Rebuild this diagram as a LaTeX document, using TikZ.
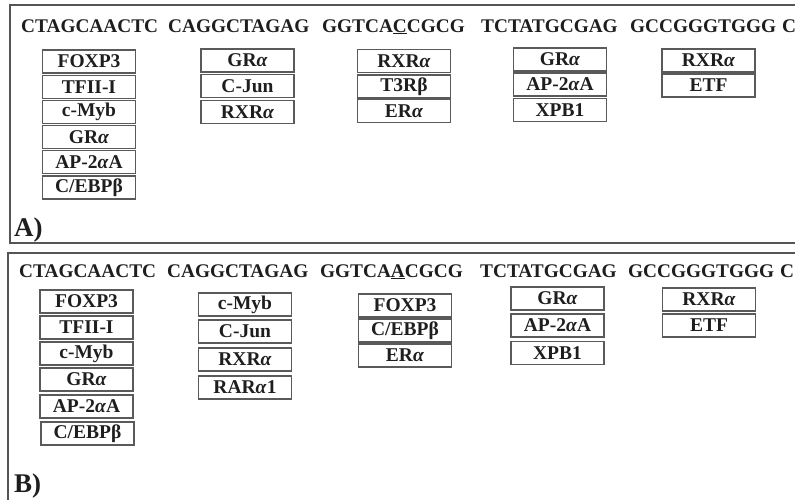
\documentclass[tikz,border=0pt]{standalone}
\usepackage{fontspec}
\setmainfont{Liberation Serif}
\definecolor{framecol}{HTML}{555555}
\definecolor{boxcol}{HTML}{5A5A5A}
\definecolor{inkcol}{HTML}{1E1E1E}
\newcommand{\al}{\textit{α}}
\tikzset{
  tfbox/.style={draw=boxcol, line width=1.3pt, minimum width=93pt, minimum height=23pt,
    inner sep=0pt, text=inkcol, font=\fontsize{19.5}{19.5}\selectfont\bfseries},
  seqword/.style={anchor=base west, inner sep=0pt, text=inkcol,
    font=\fontsize{19.3}{19.3}\selectfont\bfseries},
  paneltag/.style={anchor=base west, inner sep=0pt, text=inkcol,
    font=\fontsize{27}{27}\selectfont\bfseries},
  panelframe/.style={draw=framecol, line width=1.5pt}
}
\begin{document}
\begin{tikzpicture}[x=1pt,y=-1pt]
\useasboundingbox (0,0) rectangle (795,499);
\begin{scope}
\clip (0,0) rectangle (795,499);
% frames
\draw[panelframe] (810,5) -- (10,5) -- (10,243) -- (810,243);
\draw[panelframe] (810,253) -- (8,253) -- (8,510);
\end{scope}

% ---------- Panel A ----------
\node[seqword] (sa1) at (21,32) {CTAGCAACTC};
\node[seqword] (sa2) at (168,32) {CAGGCTAGAG};
\node[seqword] (sa3) at (322,32) {GGTCA\underline{C}CGCG};
\node[seqword] (sa4) at (481,32) {TCTATGCGAG};
\node[seqword] (sa5) at (630,32) {GCCGGGTGGG};
\node[seqword] (sa6) at (782,32) {C};

\node[tfbox] (a11) at (89,61.5) {FOXP3};
\node[tfbox] (a12) at (89,87) {TFII-I};
\node[tfbox] (a13) at (89,112) {c-Myb};
\node[tfbox] (a14) at (89,137) {GR\al};
\node[tfbox] (a15) at (89,162) {AP-2\al A};
\node[tfbox] (a16) at (89,187.5) {C/EBPβ};

\node[tfbox] (a21) at (247.5,60.5) {GR\al};
\node[tfbox] (a22) at (247.5,86) {C-Jun};
\node[tfbox] (a23) at (247.5,112) {RXR\al};

\node[tfbox] (a31) at (404,61) {RXR\al};
\node[tfbox] (a32) at (404,86.5) {T3Rβ};
\node[tfbox] (a33) at (404,111) {ER\al};

\node[tfbox] (a41) at (560,59.5) {GR\al};
\node[tfbox] (a42) at (560,84.5) {AP-2\al A};
\node[tfbox] (a43) at (560,110) {XPB1};

\node[tfbox] (a51) at (708.5,60.5) {RXR\al};
\node[tfbox] (a52) at (708.5,85.5) {ETF};

\node[paneltag] (tagA) at (14,236) {A)};

% ---------- Panel B ----------
\node[seqword] (sb1) at (19,277) {CTAGCAACTC};
\node[seqword] (sb2) at (167,277) {CAGGCTAGAG};
\node[seqword] (sb3) at (320,277) {GGTCA\underline{A}CGCG};
\node[seqword] (sb4) at (480,277) {TCTATGCGAG};
\node[seqword] (sb5) at (628,277) {GCCGGGTGGG};
\node[seqword] (sb6) at (780,277) {C};

\node[tfbox] (b11) at (86.5,301.5) {FOXP3};
\node[tfbox] (b12) at (86.5,327.5) {TFII-I};
\node[tfbox] (b13) at (86.5,353.5) {c-Myb};
\node[tfbox] (b14) at (86.5,379.5) {GR\al};
\node[tfbox] (b15) at (86.5,406.5) {AP-2\al A};
\node[tfbox] (b16) at (87.5,433.5) {C/EBPβ};

\node[tfbox] (b21) at (245,304.5) {c-Myb};
\node[tfbox] (b22) at (245,331.5) {C-Jun};
\node[tfbox] (b23) at (245,359.5) {RXR\al};
\node[tfbox] (b24) at (245,387.5) {RAR\al 1};

\node[tfbox] (b31) at (405,305.5) {FOXP3};
\node[tfbox] (b32) at (405,330.5) {C/EBPβ};
\node[tfbox] (b33) at (405,355.5) {ER\al};

\node[tfbox] (b41) at (557.5,298.5) {GR\al};
\node[tfbox] (b42) at (557.5,325.5) {AP-2\al A};
\node[tfbox] (b43) at (557.5,353) {XPB1};

\node[tfbox] (b51) at (709,299.5) {RXR\al};
\node[tfbox] (b52) at (709,325.5) {ETF};

\node[paneltag] (tagB) at (14,492) {B)};
\end{tikzpicture}
\end{document}
